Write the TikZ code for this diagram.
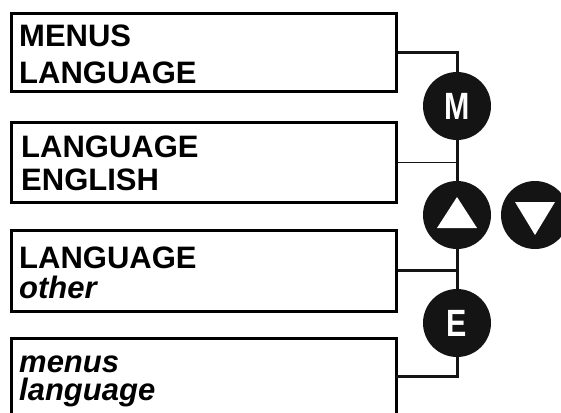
\documentclass[tikz,border=0pt]{standalone}
\usepackage{fontspec}
\setmainfont{Liberation Sans}
\newfontfamily\lcdfont{Liberation Sans}
\newfontfamily\keyfont{Liberation Sans}[FakeStretch=0.8]
\usetikzlibrary{calc}
\begin{document}
\begin{tikzpicture}[x=1pt,y=-1pt,
  lcdbox/.style={draw=black,line width=2.6pt,rectangle,inner sep=0pt,anchor=north west,minimum width=385pt},
  lcdtext/.style={anchor=base west,inner sep=0pt,font=\lcdfont\fontsize{31}{33}\selectfont\bfseries},
  lcditext/.style={lcdtext,font=\lcdfont\fontsize{31}{33}\selectfont\bfseries\itshape},
  keybtn/.style={circle,fill=black!92,minimum size=68pt,inner sep=0pt,text=white,font=\keyfont\fontsize{38}{40}\selectfont\bfseries},
  wire/.style={line width=3pt,black!92},
  thinwire/.style={line width=1.6pt,black!92}
]
\useasboundingbox (0,0) rectangle (561,412);
\clip (0,0) rectangle (561,412);
% boxes
\node[lcdbox,minimum height=78pt] (b1) at (10,12) {};
\node[lcdbox,minimum height=80pt] (b2) at (10,121) {};
\node[lcdbox,minimum height=81pt] (b3) at (10,229) {};
\node[lcdbox,minimum height=120pt] (b4) at (10,337) {};
% texts
\node[lcdtext] (t1a) at (19,47) {MENUS};
\node[lcdtext] (t1b) at (19,83) {LANGUAGE};
\node[lcdtext] (t2a) at (21,157) {LANGUAGE};
\node[lcdtext] (t2b) at (21,190) {ENGLISH};
\node[lcdtext] (t3a) at (19,268) {LANGUAGE};
\node[lcditext] (t3b) at (19,298) {other};
\node[lcditext] (t4a) at (19,372) {menus};
\node[lcditext] (t4b) at (19,400) {language};
% keys
\node[keybtn] (M) at (457,106) {M};
\node[keybtn] (up) at (457,215) {};
\node[keybtn] (dn) at (535,215) {};
\node[keybtn] (E) at (457,323) {E};
\fill[white] ($(up.center)+(-20,13)$) -- ($(up.center)+(20,13)$) -- ($(up.center)+(0,-18)$) -- cycle;
\fill[white] ($(dn.center)+(-20,-13)$) -- ($(dn.center)+(20,-13)$) -- ($(dn.center)+(0,20)$) -- cycle;
% connectors
\coordinate (b4top) at (396,376);
\draw[wire] (b1.east) -| (M.north);
\draw[wire] (M.south) -- (up.north);
\draw[thinwire] (b2.east) -- (b2.east -| M.south);
\draw[wire] (up.south) -- (E.north);
\draw[wire] (b3.east) -- (b3.east -| E.north);
\draw[wire] (E.south) |- (b4top);
\end{tikzpicture}
\end{document}
